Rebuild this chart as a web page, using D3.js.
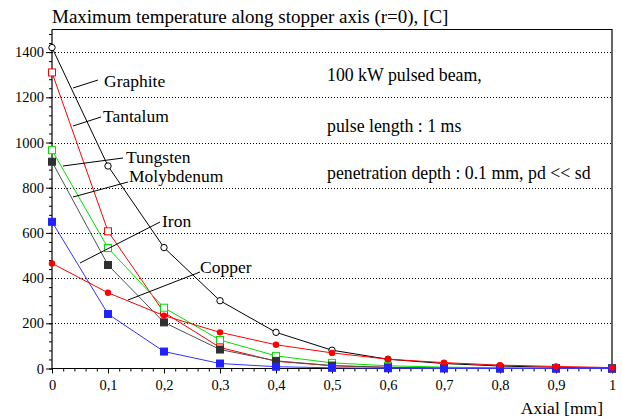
<!DOCTYPE html>
<html>
<head>
<meta charset="utf-8">
<script src="https://cdn.jsdelivr.net/npm/d3@7"></script>
<style>
  html, body { margin: 0; padding: 0; background: #fff; }
  svg { display: block; }
  svg text { font-family: "Liberation Serif", "Times New Roman", serif !important; fill: #000; }
</style>
</head>
<body>
<svg id="chart" width="622" height="418"></svg>
<script>
// Axial position [mm]
const axial = [0, 0.1, 0.2, 0.3, 0.4, 0.5, 0.6, 0.7, 0.8, 0.9, 1.0];

// Maximum temperature on the stopper axis [C] for each material
const graphite   = [1420, 896, 535, 300, 160, 81, 41, 22, 11, 5, 2];
const tantalum   = [1310, 607, 248, 93, 32, 12, 5, 2, 1, 1, 0];
const tungsten   = [966, 533, 269, 126, 56, 25, 12, 6, 3, 2, 1];
const molybdenum = [915, 458, 204, 84, 34, 13, 5, 2, 1, 0, 0];
const iron       = [649, 241, 75, 22, 8, 3, 1, 0, 0, 0, 0];
const copper     = [465, 335, 234, 160, 105, 69, 41, 26, 15, 9, 4];

const xTicks = [0, 0.1, 0.2, 0.3, 0.4, 0.5, 0.6, 0.7, 0.8, 0.9, 1];
const xTickLabels = ["0", "0,1", "0,2", "0,3", "0,4", "0,5", "0,6", "0,7", "0,8", "0,9", "1"];
const yTicks = [0, 200, 400, 600, 800, 1000, 1200, 1400];

const notes = ["100 kW pulsed beam,", "pulse length : 1 ms", "penetration depth : 0.1 mm, pd << sd"];

const series = [
  { name: "Graphite",   values: graphite,   line: "#000",    marker: "circle", fill: "#fff",    stroke: "#000" },
  { name: "Tantalum",   values: tantalum,   line: "#ff0000", marker: "square", fill: "#fff",    stroke: "#ff0000" },
  { name: "Tungsten",   values: tungsten,   line: "#00e000", marker: "square", fill: "#fff",    stroke: "#00e000" },
  { name: "Molybdenum", values: molybdenum, line: "#505050", marker: "square", fill: "#303030", stroke: "#303030" },
  { name: "Iron",       values: iron,       line: "#3333ff", marker: "square", fill: "#2222ff", stroke: "#2222ff" },
  { name: "Copper",     values: copper,     line: "#ff0000", marker: "dot",    fill: "#ff0000", stroke: "#ff0000" }
];

const svg = d3.select("#chart");
const plotLeft = 52, plotRight = 612, plotTop = 29.5, plotBottom = 368.5;

const x = d3.scaleLinear().domain([0, 1]).range([plotLeft, plotRight]);
const y = d3.scaleLinear().domain([0, 1500]).range([plotBottom, plotTop]);

// Dotted horizontal grid
svg.append("g")
  .selectAll("line")
  .data(yTicks.filter(d => d > 0))
  .join("line")
  .attr("x1", plotLeft).attr("x2", plotRight)
  .attr("y1", d => Math.round(y(d)) + 0.5).attr("y2", d => Math.round(y(d)) + 0.5)
  .attr("stroke", "#000").attr("stroke-width", 1).attr("stroke-dasharray", "1,2");

// Frame on top and right
svg.append("path")
  .attr("d", `M${plotLeft},${plotTop}H${plotRight}V${plotBottom}`)
  .attr("fill", "none").attr("stroke", "#000").attr("stroke-width", 1.2);

// Minor ticks
const xMinor = d3.range(0, 1.0001, 0.02);
const yMinor = d3.range(0, 1500.1, 40);
svg.append("g")
  .attr("transform", `translate(0,${plotBottom})`)
  .call(d3.axisBottom(x).tickValues(xMinor).tickSize(3).tickFormat(""))
  .call(g => g.select(".domain").remove());
svg.append("g")
  .attr("transform", `translate(${plotLeft},0)`)
  .call(d3.axisLeft(y).tickValues(yMinor).tickSize(3).tickFormat(""))
  .call(g => g.select(".domain").remove());

// Major axes
const xAxis = svg.append("g")
  .attr("transform", `translate(0,${plotBottom})`)
  .call(d3.axisBottom(x).tickValues(xTicks).tickSize(5).tickPadding(6)
    .tickFormat((d, i) => xTickLabels[i]));
xAxis.select(".domain").attr("d", `M${plotLeft},0H${plotRight}`).attr("stroke-width", 1.2);
xAxis.selectAll("text").attr("font-size", 14.5);

const yAxis = svg.append("g")
  .attr("transform", `translate(${plotLeft},0)`)
  .call(d3.axisLeft(y).tickValues(yTicks).tickSize(6).tickPadding(2).tickFormat(d3.format("d")));
yAxis.select(".domain").attr("d", `M0,${plotTop}V${plotBottom}`).attr("stroke-width", 1.2);
yAxis.selectAll("text").attr("font-size", 14.5);

// Title and axis label
svg.append("text").attr("x", 52).attr("y", 23).attr("font-size", 19)
  .text("Maximum temperature along stopper axis (r=0), [C]");
svg.append("text").attr("x", 603).attr("y", 414).attr("text-anchor", "end").attr("font-size", 17.5)
  .text("Axial [mm]");

// Series lines and markers
const line = d3.line().x((d, i) => x(axial[i])).y(d => y(d));
series.forEach(s => {
  const g = svg.append("g");
  g.append("path").datum(s.values).attr("d", line)
    .attr("fill", "none").attr("stroke", s.line).attr("stroke-width", 1);
  const pts = s.values.map((v, i) => [x(axial[i]), y(v)]);
  if (s.marker === "square") {
    g.selectAll("rect").data(pts).join("rect")
      .attr("x", d => d[0] - 3.5).attr("y", d => d[1] - 3.5)
      .attr("width", 7).attr("height", 7)
      .attr("fill", s.fill).attr("stroke", s.stroke).attr("stroke-width", 1);
  } else if (s.marker === "circle") {
    g.selectAll("circle").data(pts).join("circle")
      .attr("cx", d => d[0]).attr("cy", d => d[1]).attr("r", 3.2)
      .attr("fill", s.fill).attr("stroke", s.stroke).attr("stroke-width", 1);
  } else {
    g.selectAll("circle").data(pts).join("circle")
      .attr("cx", d => d[0]).attr("cy", d => d[1]).attr("r", 3.2)
      .attr("fill", s.fill).attr("stroke", "none");
  }
});

// Material labels with leader lines
const labels = [
  { name: "Graphite",   from: [73, 88],   to: [98, 80],   tx: 104, ty: 81 },
  { name: "Tantalum",   from: [73, 126],  to: [101, 117], tx: 103, ty: 116 },
  { name: "Tungsten",   from: [63, 166],  to: [123, 158], tx: 126, ty: 157 },
  { name: "Molybdenum", from: [73, 197],  to: [128, 182], tx: 129, ty: 176 },
  { name: "Iron",       from: [80, 263],  to: [160, 222], tx: 162, ty: 221 },
  { name: "Copper",     from: [128, 300], to: [200, 272], tx: 200, ty: 267 }
];
labels.forEach(l => {
  svg.append("line")
    .attr("x1", l.from[0]).attr("y1", l.from[1]).attr("x2", l.to[0]).attr("y2", l.to[1])
    .attr("stroke", "#000").attr("stroke-width", 1);
  svg.append("text").attr("x", l.tx).attr("y", l.ty).attr("dy", "0.35em")
    .attr("font-size", 17.5).text(l.name);
});

// Beam notes
const noteY = [75, 126, 173];
notes.forEach((t, i) => {
  svg.append("text").attr("x", 327).attr("y", noteY[i]).attr("dy", "0.35em")
    .attr("font-size", 17.8).text(t);
});
</script>
</body>
</html>
